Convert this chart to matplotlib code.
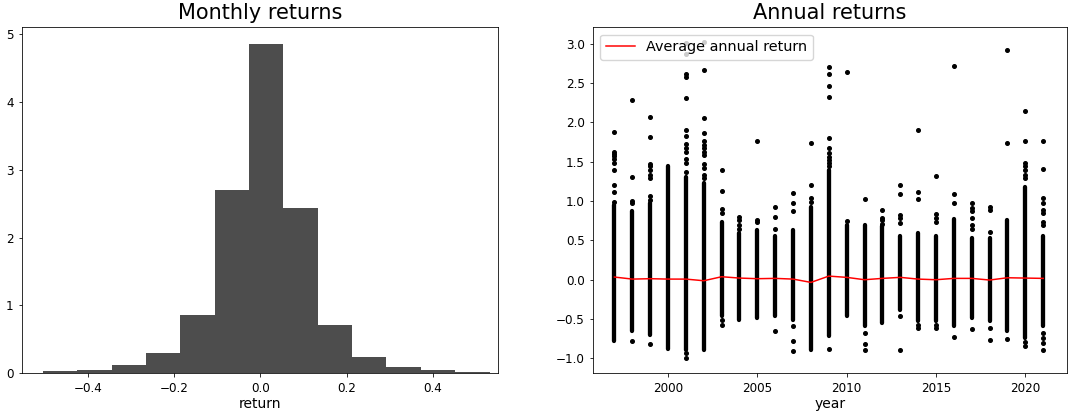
import matplotlib
matplotlib.use("Agg")
import matplotlib.pyplot as plt
import numpy as np

# ---------------- Left panel: monthly return histogram (density) ----------------
bin_edges = [-0.503, -0.4235, -0.344, -0.2645, -0.185, -0.1055, -0.026,
             0.0535, 0.133, 0.2125, 0.292, 0.3715, 0.451, 0.531]
bin_density = [0.034, 0.053, 0.118, 0.295, 0.859, 2.70, 4.86,
               2.435, 0.711, 0.236, 0.093, 0.049, 0.024]

# ---------------- Right panel: annual returns by year ----------------
years = list(range(1997, 2022))
# dense core of each year's cloud of returns (low, high)
core_low = [-0.78, -0.65, -0.70, -0.88, -0.89, -0.89, -0.46, -0.51, -0.49, -0.46,
            -0.51, -0.89, -0.72, -0.46, -0.59, -0.55, -0.38, -0.53, -0.53, -0.59,
            -0.49, -0.53, -0.65, -0.74, -0.59]
core_high = [0.95, 0.87, 0.97, 1.45, 1.31, 1.23, 0.74, 0.59, 0.63, 0.55,
             0.63, 0.93, 1.39, 0.70, 0.70, 0.68, 0.55, 0.59, 0.55, 0.77,
             0.53, 0.53, 0.76, 1.18, 0.55]
# individually visible returns outside the dense core
outliers = [
    [1.88, 1.63, 1.60, 1.57, 1.53, 1.48, 1.39, 1.20, 1.12, 0.99],            # 1997
    [2.29, 1.30, 1.00, 0.97, -0.78],                                          # 1998
    [2.07, 1.82, 1.47, 1.44, 1.40, 1.33, 1.29, 1.06, 1.01, -0.82],            # 1999
    [],                                                                       # 2000
    [3.01, 2.87, 2.62, 2.58, 2.31, 1.91, 1.83, 1.72, 1.67, 1.63, 1.53, 1.48,
     1.37, -0.93, -0.99],                                                     # 2001
    [3.02, 2.67, 2.06, 1.86, 1.77, 1.71, 1.67, 1.63, 1.58, 1.47, 1.42, 1.33,
     1.29],                                                                   # 2002
    [1.39, 1.13, 0.90, 0.85, -0.51, -0.57],                                   # 2003
    [0.80, 0.76, 0.70, 0.65],                                                 # 2004
    [1.77, 0.76, 0.73],                                                       # 2005
    [0.93, 0.80, 0.65, -0.65],                                                # 2006
    [1.10, 0.98, 0.87, -0.59, -0.78, -0.91],                                  # 2007
    [1.74, 1.21, 1.04, 0.99],                                                 # 2008
    [2.70, 2.61, 2.46, 2.33, 1.80, 1.68, 1.61, 1.56, 1.52, 1.48, 1.44,
     -0.88],                                                                  # 2009
    [2.64, 0.75],                                                             # 2010
    [1.03, -0.68, -0.82, -0.89],                                              # 2011
    [0.89, 0.79, 0.76, 0.71],                                                 # 2012
    [1.20, 1.09, 0.82, 0.79, 0.72, -0.46, -0.89],                             # 2013
    [1.90, 1.12, 1.03, -0.57, -0.61],                                         # 2014
    [1.32, 0.84, 0.78, 0.74, -0.57, -0.61],                                   # 2015
    [2.72, 1.09, 0.98, -0.73],                                                # 2016
    [0.98, 0.91, 0.87, 0.78, 0.70, 0.65, -0.63],                              # 2017
    [0.92, 0.89, 0.61, -0.61, -0.77],                                         # 2018
    [2.92, 1.74, -0.76],                                                      # 2019
    [2.14, 1.76, 1.49, 1.44, 1.39, 1.33, 1.29, -0.79, -0.84],                 # 2020
    [1.77, 1.41, 1.04, 0.98, 0.89, 0.85, 0.74, 0.70, -0.68, -0.74, -0.80,
     -0.89],                                                                  # 2021
]
avg_return = [0.034, 0.008, 0.013, 0.008, 0.008, -0.013, 0.038, 0.021, 0.013, 0.017,
              0.008, -0.034, 0.046, 0.030, 0.000, 0.017, 0.030, 0.008, 0.000, 0.017,
              0.017, -0.004, 0.025, 0.021, 0.017]

# ---------------- Figure ----------------
S = 0.72  # scale of the original styling
plt.rcParams.update({
    "xtick.labelsize": 12 * S, "ytick.labelsize": 12 * S,
    "xtick.major.size": 3.5 * S, "ytick.major.size": 3.5 * S,
    "xtick.major.width": 0.8 * S, "ytick.major.width": 0.8 * S,
    "axes.linewidth": 0.8 * S,
})

fig = plt.figure(figsize=(10.68, 4.17), dpi=100)
ax1 = fig.add_axes([22 / 1068, 1 - 373.3 / 417, (498.3 - 22) / 1068, (373.3 - 27.3) / 417])
ax2 = fig.add_axes([593 / 1068, 1 - 373.3 / 417, (1067.3 - 593) / 1068, (373.3 - 27.3) / 417])

centers = [(a + b) / 2 for a, b in zip(bin_edges[:-1], bin_edges[1:])]
ax1.hist(centers, bins=bin_edges, weights=bin_density, color="#4d4d4d")
ax1.set_xlim(-0.552, 0.551)
ax1.set_title("Monthly returns", fontsize=15)
ax1.set_xlabel("return", fontsize=10, labelpad=2)

# dense cores
ax2.vlines(years, core_low, core_high, color="k", linewidth=3.1, capstyle="round")
ox = [y for y, vals in zip(years, outliers) for _ in vals]
oy = [v for vals in outliers for v in vals]
ax2.plot(ox, oy, "k.", markersize=5.2, linestyle="none")
ax2.plot(years, avg_return, color="red", linewidth=1.5 * S, label="Average annual return")
ax2.set_ylim(-1.19, 3.21)
ax2.set_xlim(1995.8, 2022.35)
ax2.set_title("Annual returns", fontsize=15)
ax2.set_xlabel("year", fontsize=10, labelpad=2)
ax2.legend(loc="upper left", fontsize=10.4)

fig.savefig("out.png", dpi=100)
